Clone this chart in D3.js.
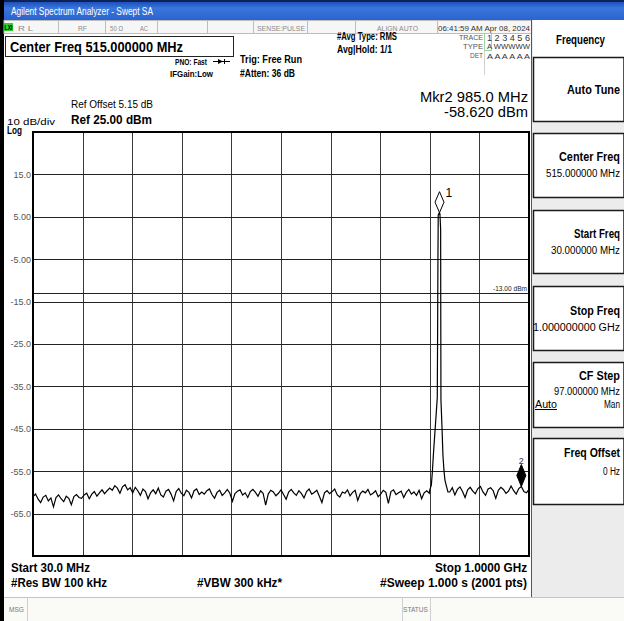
<!DOCTYPE html>
<html>
<head>
<meta charset="utf-8">
<script src="https://cdn.jsdelivr.net/npm/d3@7"></script>
<style>
html, body { margin: 0; padding: 0; background: #fff; }
svg { display: block; font-family: 'Liberation Sans', Arial, sans-serif; }
</style>
</head>
<body>
<div id="sa"></div>
<script>
// sweep settings
var startMHz = 30, stopMHz = 1000;
var refLevel = 25, dbPerDiv = 10, numDiv = 10;
var displayLineDbm = -13;

var yTickValues = [15, 5, -5, -15, -25, -35, -45, -55, -65];
var yTickLabels = ["15.0", "5.00", "-5.00", "-15.0", "-25.0", "-35.0", "-45.0", "-55.0", "-65.0"];

// noise floor, one value every 5 MHz
var noiseStepMHz = 5;
var noiseLeftStart = 30;
var noiseLeftDbm = [
  -61.0, -60.4, -61.6, -62.4, -61.1, -60.7, -62.0, -61.3, -63.4, -61.2, -60.6, -61.5, -62.2, -60.9, -61.4, -62.9, -61.0, -60.5, -61.2,
  -61.4, -60.6, -60.2, -61.5, -60.4, -59.8, -60.9, -60.1, -59.4, -60.3, -59.6, -59.0,
  -59.5, -58.4, -59.0, -60.2, -58.7, -58.2, -59.4, -58.9, -60.1, -58.8,
  -59.6, -60.7, -59.2, -59.8, -61.5, -60.1, -59.4, -60.3, -59.0, -60.6, -61.1, -59.7, -59.3, -60.4, -62.0, -59.8, -59.1, -60.2, -60.8, -59.5, -60.0, -61.3, -59.6, -59.2, -60.5, -59.9,
  -60.4, -59.6, -59.2, -60.5, -61.4, -60.0, -59.5, -60.7, -60.1, -59.3,
  -60.2, -62.1, -60.3, -59.7, -59.4, -60.6, -60.1, -61.2, -59.8, -59.3,
  -60.0, -60.9, -59.6, -60.2, -63.0, -60.4, -59.5, -59.9, -60.8, -60.2,
  -59.4, -60.5, -61.6, -59.9, -59.3, -60.1, -60.7, -59.6, -60.3, -61.3,
  -59.8, -59.2, -60.4, -60.0, -59.5, -60.9, -62.4, -60.1, -59.6, -60.3,
  -59.8, -59.2, -60.6, -61.1, -59.9, -60.2, -59.4, -60.8, -60.0, -59.5,
  -61.9, -60.3, -59.7, -60.1, -59.3, -60.6, -60.2, -59.6, -61.0, -60.4,
  -59.5, -60.0, -62.6, -59.8, -59.4, -60.5, -60.1, -59.7, -61.2, -60.0,
  -59.3, -60.4, -59.9, -60.7, -59.5, -61.5, -60.1, -59.6, -60.2
];
var noiseRightStart = 845;
var noiseRightDbm = [
  -59.9, -58.9, -60.6, -59.3, -58.7, -59.8, -61.2, -59.4, -58.8, -59.7,
  -60.3, -59.1, -58.6, -59.9, -60.7, -59.2, -58.9, -59.6, -61.4, -59.5,
  -58.8, -59.3, -60.2, -59.7, -58.5, -59.6, -60.4, -59.1, -58.62, -59.8,
  -60.1, -59.3
];

// the carrier near 825 MHz
var peakFreqMHz = [806, 809, 811, 813, 815, 817, 819, 820.6, 821.3, 821.9, 822.5, 823.9, 825, 825.8, 827.2, 827.4, 827.8, 829.7, 831.7, 833.6, 835.6, 838.9, 841.5];
var peakDbm = [-59.4, -58.3, -55.2, -51.2, -47.6, -44.1, -40.6, -37.7, -21.7, -5.2, 5.4, 5.8, 5.97, 5.7, 2.1, -14.6, -38.2, -44.1, -51.2, -54.7, -57.1, -58.7, -59.9];

var markerIds = ["1", "2"];
var markerFreqMHz = [825, 985];
var markerDbm = [5.97, -58.62];

var softkeyTitles = ["Auto Tune", "Center Freq", "Start Freq", "Stop Freq", "CF Step", "Freq Offset"];
var softkeyValues = ["", "515.000000 MHz", "30.000000 MHz", "1.000000000 GHz", "97.000000 MHz", "0 Hz"];

var statusCells = ["R L", "RF", "50 \u03A9", "AC", "SENSE:PULSE", "ALIGN AUTO", "06:41:59 AM Apr 08, 2024"];

var W = 624, H = 621;
var plot = { left: 33, right: 529, top: 132, bottom: 556 };

var svg = d3.select("#sa").append("svg").attr("width", W).attr("height", H);

function addText(g, s, o) {
    var t = g.append("text")
        .attr("x", o.x).attr("y", o.y)
        .attr("font-size", o.size || 10)
        .attr("font-weight", o.bold ? "bold" : "normal")
        .attr("fill", o.color || "#000")
        .attr("text-anchor", o.anchor || "start")
        .text(s);
    if (o.w) t.attr("textLength", o.w).attr("lengthAdjust", "spacingAndGlyphs");
    return t;
}

// ---- window chrome ----
var defs = svg.append("defs");
var grad = defs.append("linearGradient").attr("id", "titleGrad").attr("x1", 0).attr("y1", 0).attr("x2", 0).attr("y2", 1);
grad.append("stop").attr("offset", "0%").attr("stop-color", "#1d50bb");
grad.append("stop").attr("offset", "35%").attr("stop-color", "#3a76dc");
grad.append("stop").attr("offset", "100%").attr("stop-color", "#2a63cf");

svg.append("rect").attr("x", 0).attr("y", 0).attr("width", W).attr("height", 2).attr("fill", "#0d2357");
svg.append("rect").attr("x", 0).attr("y", 2).attr("width", W).attr("height", 18).attr("fill", "url(#titleGrad)");
addText(svg, "Agilent Spectrum Analyzer - Swept SA", { x: 11, y: 15, size: 10, color: "#fff", w: 142 });
svg.append("rect").attr("x", 0).attr("y", 0).attr("width", 4).attr("height", H).attr("fill", "#000");

// status row
var statusRow = svg.append("g");
statusRow.append("rect").attr("x", 4).attr("y", 20.5).attr("width", 528).attr("height", 13)
    .attr("fill", "#f6f6f6").attr("stroke", "#bdbdbd");
[58, 105, 157, 207, 253, 307, 355, 437].forEach(function (dx) {
    statusRow.append("line").attr("x1", dx + 0.5).attr("x2", dx + 0.5).attr("y1", 21).attr("y2", 33).attr("stroke", "#bdbdbd");
});
statusRow.append("rect").attr("x", 4).attr("y", 23).attr("width", 9).attr("height", 8).attr("fill", "#2bd12b");
addText(statusRow, "LXI", { x: 4.5, y: 30, size: 6.5, bold: true, w: 8 });
var cellX = [18, 78, 110, 140, 257, 377, 438];
var cellW = [15, 9, 13, 8, 48, 41, 92];
statusCells.forEach(function (s, i) {
    addText(statusRow, s, { x: cellX[i], y: 30.5, size: 8, color: i === 6 ? "#333" : "#8a8a8a", w: cellW[i] });
});

// ---- header annotations ----
var head = svg.append("g");
head.append("rect").attr("x", 5.5).attr("y", 36.5).attr("width", 228).attr("height", 20)
    .attr("fill", "#fff").attr("stroke", "#222");
addText(head, "Center Freq 515.000000 MHz", { x: 10, y: 52, size: 15.5, bold: true, w: 173 });
addText(head, "PNO: Fast", { x: 175, y: 65, size: 9.5, bold: true, w: 32 });
head.append("line").attr("x1", 213).attr("x2", 230).attr("y1", 61.5).attr("y2", 61.5).attr("stroke", "#000");
head.append("path").attr("d", "M218,59 L223,61.5 L218,64 Z").attr("fill", "#000");
head.append("line").attr("x1", 224.5).attr("x2", 224.5).attr("y1", 59).attr("y2", 64).attr("stroke", "#000");
addText(head, "IFGain:Low", { x: 170, y: 76.5, size: 9.5, bold: true, w: 43 });
addText(head, "Trig: Free Run", { x: 240, y: 62.5, size: 10, bold: true, w: 62 });
addText(head, "#Atten: 36 dB", { x: 240, y: 76.5, size: 10, bold: true, w: 55 });
addText(head, "#Avg Type: RMS", { x: 337, y: 40, size: 10, bold: true, w: 60 });
addText(head, "Avg|Hold: 1/1", { x: 337, y: 53, size: 10, bold: true, w: 55 });

head.append("line").attr("x1", 484.5).attr("x2", 484.5).attr("y1", 34).attr("y2", 75).attr("stroke", "#d0d0d0");
head.append("rect").attr("x", 484.5).attr("y", 33.5).attr("width", 7).attr("height", 17)
    .attr("fill", "none").attr("stroke", "#9fd39f");
addText(head, "TRACE", { x: 459, y: 40, size: 7, color: "#555", w: 24 });
addText(head, "TYPE", { x: 463, y: 49, size: 7, color: "#555", w: 20 });
addText(head, "DET", { x: 470, y: 58, size: 7, color: "#555", w: 13 });
addText(head, "1 2 3 4 5 6", { x: 487, y: 40.5, size: 8.5, color: "#333", w: 43 });
addText(head, "A WWWWW", { x: 487, y: 49, size: 7.5, color: "#333", w: 43 });
addText(head, "A A A A A A", { x: 487, y: 58.5, size: 8, color: "#333", w: 43 });

addText(head, "Ref Offset 5.15 dB", { x: 71, y: 108, size: 10, w: 82 });
addText(head, "Ref 25.00 dBm", { x: 71, y: 124, size: 13, bold: true, w: 81 });
addText(head, "10 dB/div", { x: 7, y: 124.5, size: 9.5, w: 48 });
addText(head, "Log", { x: 7, y: 134, size: 10, bold: true, w: 15 });
addText(head, "Mkr2 985.0 MHz", { x: 528, y: 102, size: 14.5, anchor: "end", w: 108 });
addText(head, "-58.620 dBm", { x: 528, y: 117, size: 14.5, anchor: "end", w: 84 });

// ---- graticule ----
var x = d3.scaleLinear().domain([startMHz, stopMHz]).range([plot.left, plot.right]);
var y = d3.scaleLinear().domain([refLevel - dbPerDiv * numDiv, refLevel]).range([plot.bottom, plot.top]);

var xGrid = d3.range(1, numDiv).map(function (k) { return startMHz + k * (stopMHz - startMHz) / numDiv; });

var gx = svg.append("g").attr("transform", "translate(0," + plot.bottom + ")")
    .call(d3.axisBottom(x).tickValues(xGrid).tickSize(-(plot.bottom - plot.top)).tickFormat(""));
gx.select(".domain").remove();
gx.selectAll(".tick line").attr("stroke", "#3a3a3a").attr("shape-rendering", "crispEdges");

var gy = svg.append("g").attr("transform", "translate(" + plot.left + ",0)")
    .call(d3.axisLeft(y).tickValues(yTickValues).tickSize(-(plot.right - plot.left)).tickPadding(2)
        .tickFormat(function (d, i) { return yTickLabels[i]; }));
gy.select(".domain").remove();
gy.selectAll(".tick line").attr("stroke", "#222").attr("shape-rendering", "crispEdges");
gy.selectAll(".tick text").attr("font-size", 9).attr("fill", "#555")
    .attr("font-family", "'Liberation Sans Narrow', 'Liberation Sans', Arial, sans-serif");

// display line
svg.append("line").attr("x1", plot.left).attr("x2", plot.right)
    .attr("y1", y(displayLineDbm)).attr("y2", y(displayLineDbm))
    .attr("stroke", "#222").attr("shape-rendering", "crispEdges");
addText(svg, "-13.00 dBm", { x: 527, y: y(displayLineDbm) - 2, size: 7.5, anchor: "end", color: "#222", w: 34 });

// ---- trace ----
var trace = noiseLeftDbm.map(function (v, i) { return [noiseLeftStart + i * noiseStepMHz, v]; })
    .concat(peakFreqMHz.map(function (f, i) { return [f, peakDbm[i]]; }))
    .concat(noiseRightDbm.map(function (v, i) { return [noiseRightStart + i * noiseStepMHz, v]; }));

defs.append("clipPath").attr("id", "plotClip").append("rect")
    .attr("x", plot.left).attr("y", plot.top).attr("width", plot.right - plot.left).attr("height", plot.bottom - plot.top);

svg.append("path").datum(trace)
    .attr("clip-path", "url(#plotClip)")
    .attr("fill", "none").attr("stroke", "#000").attr("stroke-width", 1.2)
    .attr("d", d3.line().x(function (d) { return x(d[0]); }).y(function (d) { return y(d[1]); }));

// markers
markerIds.forEach(function (id, i) {
    var mx = x(markerFreqMHz[i]), my = y(markerDbm[i]);
    var hh = i === 0 ? 21 : 22, hw = 4.5;
    svg.append("path")
        .attr("d", "M" + mx + "," + my + "L" + (mx + hw) + "," + (my - hh / 2) + "L" + mx + "," + (my - hh) + "L" + (mx - hw) + "," + (my - hh / 2) + "Z")
        .attr("fill", i === 0 ? "#fff" : "#000").attr("stroke", "#000").attr("stroke-width", 1);
    if (i === 0) addText(svg, id, { x: mx + 6, y: my - 16, size: 12 });
    else addText(svg, id, { x: mx, y: my - 23, size: 9, anchor: "middle", color: "#333" });
});

// plot frame
svg.append("rect").attr("x", plot.left).attr("y", plot.top)
    .attr("width", plot.right - plot.left).attr("height", plot.bottom - plot.top)
    .attr("fill", "none").attr("stroke", "#000").attr("stroke-width", 2);

// ---- footer annotations ----
var foot = svg.append("g");
addText(foot, "Start 30.0 MHz", { x: 11, y: 572, size: 12, bold: true, w: 79 });
addText(foot, "#Res BW 100 kHz", { x: 11, y: 587, size: 12, bold: true, w: 96 });
addText(foot, "#VBW 300 kHz*", { x: 197, y: 587, size: 12, bold: true, w: 85 });
addText(foot, "Stop 1.0000 GHz", { x: 527, y: 572, size: 12, bold: true, anchor: "end", w: 92 });
addText(foot, "#Sweep  1.000 s (2001 pts)", { x: 527, y: 587, size: 12, bold: true, anchor: "end", w: 147 });

// message bar
foot.append("rect").attr("x", 4).attr("y", 597).attr("width", W - 4).attr("height", H - 597).attr("fill", "#fafaf6");
foot.append("line").attr("x1", 4).attr("x2", W).attr("y1", 597.5).attr("y2", 597.5).attr("stroke", "#c4c4c4");
[27, 402, 430].forEach(function (dx) {
    foot.append("line").attr("x1", dx + 0.5).attr("x2", dx + 0.5).attr("y1", 598).attr("y2", H).attr("stroke", "#d0d0d0");
});
addText(foot, "MSG", { x: 9, y: 612, size: 7, color: "#777", w: 15 });
addText(foot, "STATUS", { x: 403, y: 612, size: 7, color: "#777", w: 25 });

// ---- softkey panel ----
var panel = svg.append("g");
panel.append("rect").attr("x", 531).attr("y", 20).attr("width", W - 531).attr("height", 577).attr("fill", "#ececec");
panel.append("line").attr("x1", 531.5).attr("x2", 531.5).attr("y1", 20).attr("y2", 597).attr("stroke", "#555");
panel.append("rect").attr("x", 533).attr("y", 20).attr("width", W - 533).attr("height", 37).attr("fill", "#fff");
addText(panel, "Frequency", { x: 556, y: 44, size: 12, bold: true, w: 49 });

var keyTop = [57, 133, 210, 286, 362, 438];
var keyBottom = [121, 197, 273, 350, 427, 504];
var titleY = [94, 161, 238, 315, 380, 457];
var valueY = [0, 177, 254, 331, 395, 475];
var titleW = [53, 61, 46, 50, 41, 56];
var valueW = [0, 74, 69, 87, 66, 17];

softkeyTitles.forEach(function (s, i) {
    panel.append("rect").attr("x", 533.5).attr("y", keyTop[i] + 0.5)
        .attr("width", W - 533.5).attr("height", keyBottom[i] - keyTop[i])
        .attr("fill", "#fff").attr("stroke", "#1a1a1a").attr("stroke-width", 1.5);
    addText(panel, s, { x: 620, y: titleY[i], size: 12, bold: true, anchor: "end", w: titleW[i] });
    if (softkeyValues[i]) addText(panel, softkeyValues[i], { x: 620, y: valueY[i], size: 10, anchor: "end", w: valueW[i] });
});
addText(panel, "Auto", { x: 535, y: 408, size: 10, w: 22 }).attr("text-decoration", "underline");
addText(panel, "Man", { x: 620, y: 408, size: 10, anchor: "end", w: 16 });
</script>
</body>
</html>
